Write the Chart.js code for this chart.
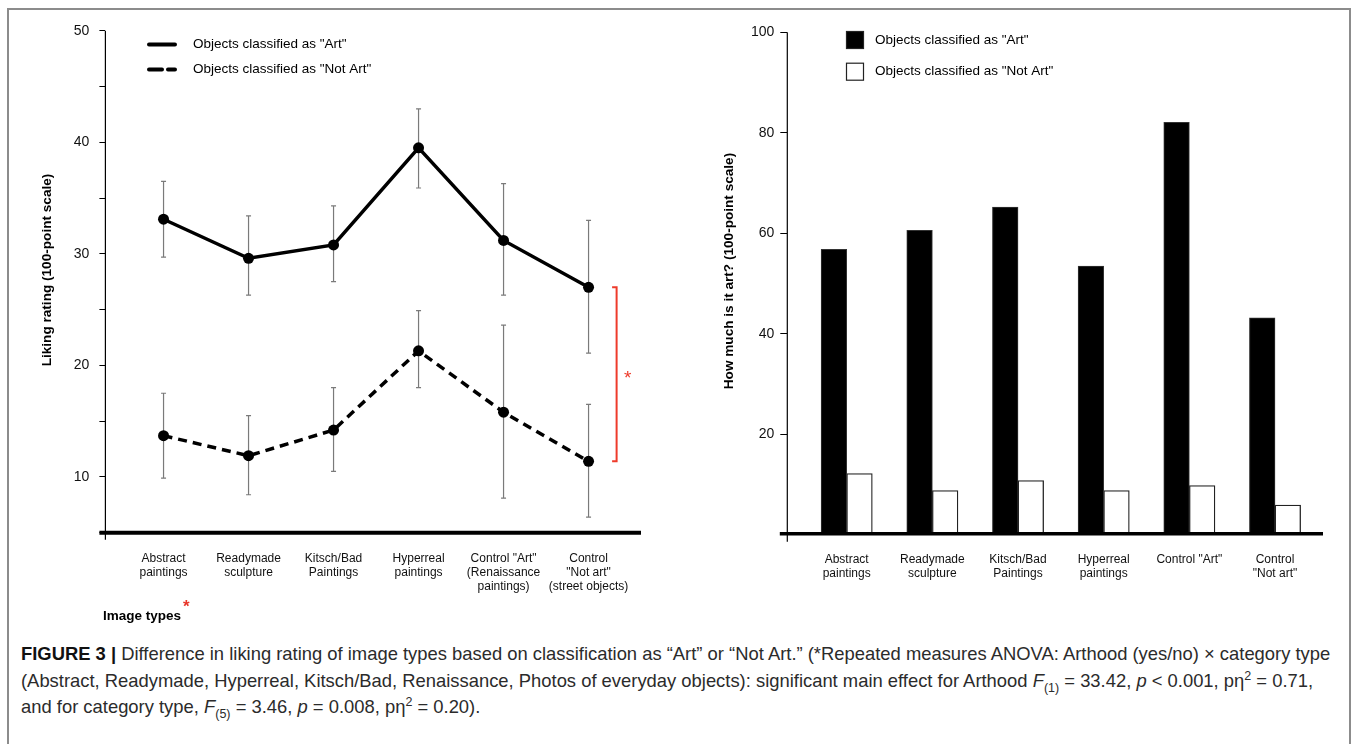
<!DOCTYPE html>
<html>
<head>
<meta charset="utf-8">
<title>Figure 3</title>
<script src="https://cdn.jsdelivr.net/npm/chart.js@4.4.1/dist/chart.umd.min.js"></script>
<style>
  body { margin: 0; background: #fff; width: 1357px; height: 744px; overflow: hidden; position: relative; font-family: "Liberation Sans", Arial, sans-serif; }
  #frame { position: absolute; left: 7px; top: 8px; width: 1344px; height: 780px; border: 2px solid #8c8c8c; box-sizing: border-box; }
  #left { position: absolute; left: 0; top: 0; }
  #right { position: absolute; left: 670px; top: 0; }
  #imgTypes { position: absolute; left: 103px; top: 605px; font-size: 13.5px; font-weight: bold; color: #000; }
  #imgTypes span { color: #e8362a; font-size: 17px; position: relative; top: -8px; left: 2px; }
  #caption { position: absolute; left: 21px; top: 641px; font-size: 18.4px; line-height: 26.5px; color: #2b2b2b; white-space: nowrap; }
  #caption b { color: #111; }
  #caption sub, #caption sup { font-size: 12.5px; line-height: 0; }
</style>
</head>
<body>
<div id="frame"></div>
<canvas id="left" width="670" height="640"></canvas>
<canvas id="right" width="687" height="640"></canvas>
<div id="imgTypes">Image types<span>*</span></div>
<div id="caption">
  <div><b>FIGURE 3 |</b> Difference in liking rating of image types based on classification as “Art” or “Not Art.” (*Repeated measures ANOVA: Arthood (yes/no) × category type</div>
  <div>(Abstract, Readymade, Hyperreal, Kitsch/Bad, Renaissance, Photos of everyday objects): significant main effect for Arthood <i>F</i><sub>(1)</sub> = 33.42, <i>p</i> &lt; 0.001, pη<sup>2</sup> = 0.71,</div>
  <div>and for category type, <i>F</i><sub>(5)</sub> = 3.46, <i>p</i> = 0.008, pη<sup>2</sup> = 0.20).</div>
</div>
<script>
const seriesNames = ['Objects classified as "Art"', 'Objects classified as "Not Art"'];

const likingLabels = [
    ["Abstract", "paintings"],
    ["Readymade", "sculpture"],
    ["Kitsch/Bad", "Paintings"],
    ["Hyperreal", "paintings"],
    ['Control "Art"', "(Renaissance", "paintings)"],
    ["Control", '"Not art"', "(street objects)"]
];
const likingArt = [33.1, 29.6, 30.8, 39.5, 31.2, 27.0];
const likingArtHigh = [36.5, 33.4, 34.3, 43.0, 36.3, 33.0];
const likingArtLow = [29.7, 26.3, 27.5, 35.9, 26.3, 21.1];
const likingNotArt = [13.7, 11.9, 14.2, 21.3, 15.8, 11.4];
const likingNotArtHigh = [17.5, 15.5, 18.0, 24.9, 23.6, 16.5];
const likingNotArtLow = [9.9, 8.4, 10.5, 18.0, 8.1, 6.4];

const artLabels = [
    ["Abstract", "paintings"],
    ["Readymade", "sculpture"],
    ["Kitsch/Bad", "Paintings"],
    ["Hyperreal", "paintings"],
    ['Control "Art"'],
    ["Control", '"Not art"']
];
const howMuchArt = [56.8, 60.6, 65.2, 53.5, 82.1, 43.2];
const howMuchNotArt = [12.2, 8.8, 10.8, 8.8, 9.8, 5.9];

const FONT = "'Liberation Sans', Arial, sans-serif";
Chart.defaults.font.family = FONT;
Chart.defaults.color = "#111";

function points(values) {
    return values.map((v, i) => ({x: i + 1, y: v}));
}

function yTitle(ctx, text, x, y) {
    ctx.save();
    ctx.translate(x, y);
    ctx.rotate(-Math.PI / 2);
    ctx.font = "bold 13.6px " + FONT;
    ctx.fillStyle = "#000";
    ctx.textAlign = "center";
    ctx.textBaseline = "middle";
    ctx.fillText(text, 0, 0);
    ctx.restore();
}

// error bars, axes, legend and the red bracket for the liking chart
const likingExtras = {
    id: "likingExtras",
    beforeDatasetsDraw(chart) {
        var ctx = chart.ctx;
        var xs = chart.scales.x, ys = chart.scales.y;
        ctx.save();
        ctx.strokeStyle = "#7a7a7a";
        ctx.lineWidth = 1.2;
        for (var pair of [[likingArtLow, likingArtHigh], [likingNotArtLow, likingNotArtHigh]]) {
            for (var i = 0; i < pair[0].length; i++) {
                var px = xs.getPixelForValue(i + 1);
                var lo = ys.getPixelForValue(pair[0][i]);
                var hi = ys.getPixelForValue(pair[1][i]);
                ctx.beginPath();
                ctx.moveTo(px, lo); ctx.lineTo(px, hi);
                ctx.moveTo(px - 2.5, lo); ctx.lineTo(px + 2.5, lo);
                ctx.moveTo(px - 2.5, hi); ctx.lineTo(px + 2.5, hi);
                ctx.stroke();
            }
        }
        ctx.restore();
    },
    afterDraw(chart) {
        var ctx = chart.ctx;
        var area = chart.chartArea;
        var xs = chart.scales.x, ys = chart.scales.y;
        ctx.save();
        // axes
        ctx.strokeStyle = "#000";
        ctx.lineWidth = 1.2;
        ctx.beginPath();
        ctx.moveTo(area.left, area.top);
        ctx.lineTo(area.left, area.bottom + 7);
        ctx.stroke();
        ctx.lineWidth = 4;
        ctx.beginPath();
        ctx.moveTo(area.left - 6, area.bottom);
        ctx.lineTo(area.right, area.bottom);
        ctx.stroke();

        // legend
        ctx.lineCap = "round";
        ctx.font = "13.5px " + FONT;
        ctx.textBaseline = "middle";
        chart.data.datasets.forEach(function (ds, k) {
            var y = 44.5 + k * 25;
            ctx.strokeStyle = ds.borderColor;
            ctx.lineWidth = 4;
            ctx.setLineDash(ds.borderDash ? [13, 6] : []);
            ctx.beginPath();
            ctx.moveTo(149, y);
            ctx.lineTo(175, y);
            ctx.stroke();
            ctx.setLineDash([]);
            ctx.fillStyle = "#000";
            ctx.fillText(ds.label, 193, y);
        });
        ctx.lineCap = "butt";

        // significance bracket
        var last = likingArt.length - 1;
        var bx = xs.getPixelForValue(last + 1.33);
        var top = ys.getPixelForValue(likingArt[last]);
        var bottom = ys.getPixelForValue(likingNotArt[last]);
        ctx.strokeStyle = "#ee3b2b";
        ctx.lineWidth = 2;
        ctx.beginPath();
        ctx.moveTo(bx - 4.5, top); ctx.lineTo(bx, top);
        ctx.lineTo(bx, bottom); ctx.lineTo(bx - 4.5, bottom);
        ctx.stroke();
        ctx.fillStyle = "#ee3b2b";
        ctx.font = "19px " + FONT;
        ctx.textAlign = "center";
        ctx.fillText("*", bx + 11, (top + bottom) / 2 + 4);
        ctx.restore();

        yTitle(ctx, "Liking rating (100-point scale)", 47, 270);
    }
};

new Chart(document.getElementById("left"), {
    type: "line",
    data: {
        datasets: [{
            label: seriesNames[0],
            data: points(likingArt),
            borderColor: "#000",
            backgroundColor: "#000",
            borderWidth: 3.5,
            pointRadius: 5.5,
            pointBorderWidth: 0,
            pointBackgroundColor: "#000",
            tension: 0
        }, {
            label: seriesNames[1],
            data: points(likingNotArt),
            borderColor: "#000",
            backgroundColor: "#000",
            borderWidth: 3.5,
            borderDash: [9, 6],
            pointRadius: 5.5,
            pointBorderWidth: 0,
            pointBackgroundColor: "#000",
            tension: 0
        }]
    },
    options: {
        responsive: false,
        animation: false,
        events: [],
        layout: {padding: {top: 30.7, right: 29, left: 0, bottom: 0}},
        plugins: {legend: {display: false}, tooltip: {enabled: false}},
        scales: {
            x: {
                type: "linear",
                min: 0.316,
                max: 6.617,
                grid: {display: false},
                border: {display: false},
                afterBuildTicks: function (s) { s.ticks = likingLabels.map((l, i) => ({value: i + 1})); },
                afterFit: function (s) { s.height = 640 - 532.7; },
                ticks: {
                    autoSkip: false,
                    maxRotation: 0,
                    padding: 11,
                    color: "#111",
                    font: {size: 12, lineHeight: 1.15},
                    callback: function (v) { return likingLabels[v - 1]; }
                }
            },
            y: {
                min: 5,
                max: 50,
                grid: {drawOnChartArea: false, drawTicks: true, tickLength: 6, color: "#000", lineWidth: 1},
                border: {display: false},
                afterFit: function (s) { s.width = 105.4; },
                ticks: {
                    stepSize: 5,
                    padding: 10,
                    color: "#111",
                    font: {size: 14},
                    callback: function (v) { return v % 10 === 0 ? v : ""; }
                }
            }
        }
    },
    plugins: [likingExtras]
});

// axes, legend and axis title for the "how much is it art" chart
const artExtras = {
    id: "artExtras",
    afterDraw(chart) {
        var ctx = chart.ctx;
        var area = chart.chartArea;
        ctx.save();
        ctx.strokeStyle = "#000";
        ctx.lineWidth = 1.2;
        ctx.beginPath();
        ctx.moveTo(area.left, area.top);
        ctx.lineTo(area.left, area.bottom + 7);
        ctx.stroke();
        ctx.lineWidth = 3.5;
        ctx.beginPath();
        ctx.moveTo(area.left - 7.5, area.bottom - 1);
        ctx.lineTo(area.right, area.bottom - 1);
        ctx.stroke();

        ctx.font = "13.5px " + FONT;
        ctx.textBaseline = "middle";
        chart.data.datasets.forEach(function (ds, k) {
            var y = 40 + k * 31.7;
            ctx.fillStyle = ds.backgroundColor;
            ctx.fillRect(176.5, y - 8.5, 17, 17);
            ctx.strokeStyle = "#222";
            ctx.lineWidth = 1.2;
            ctx.strokeRect(176.5, y - 8.5, 17, 17);
            ctx.fillStyle = "#000";
            ctx.fillText(ds.label, 205, y);
        });
        ctx.restore();

        yTitle(ctx, "How much is it art? (100-point scale)", 59.7, 271);
    }
};

new Chart(document.getElementById("right"), {
    type: "bar",
    data: {
        datasets: [{
            label: seriesNames[0],
            data: points(howMuchArt),
            backgroundColor: "#000",
            borderColor: "#333",
            borderWidth: 1,
            barThickness: 25.6
        }, {
            label: seriesNames[1],
            data: points(howMuchNotArt),
            backgroundColor: "#fff",
            borderColor: "#222",
            borderWidth: 1.3,
            barThickness: 25.6
        }]
    },
    options: {
        responsive: false,
        animation: false,
        events: [],
        layout: {padding: {top: 32.3, right: 34, left: 0, bottom: 0}},
        plugins: {legend: {display: false}, tooltip: {enabled: false}},
        scales: {
            x: {
                type: "linear",
                offset: false,
                min: 0.3066,
                max: 6.56,
                grid: {display: false, offset: false},
                border: {display: false},
                afterBuildTicks: function (s) { s.ticks = artLabels.map((l, i) => ({value: i + 1})); },
                afterFit: function (s) { s.height = 640 - 534.8; },
                ticks: {
                    autoSkip: false,
                    maxRotation: 0,
                    padding: 10,
                    color: "#111",
                    font: {size: 12, lineHeight: 1.15},
                    callback: function (v) { return artLabels[v - 1]; }
                }
            },
            y: {
                min: 0,
                max: 100,
                grid: {drawOnChartArea: false, drawTicks: true, tickLength: 7, color: "#000", lineWidth: 1},
                border: {display: false},
                afterFit: function (s) { s.width = 117.3; },
                ticks: {
                    stepSize: 20,
                    padding: 6,
                    color: "#111",
                    font: {size: 14},
                    callback: function (v) { return v === 0 ? "" : v; }
                }
            }
        }
    },
    plugins: [artExtras]
});
</script>
</body>
</html>
